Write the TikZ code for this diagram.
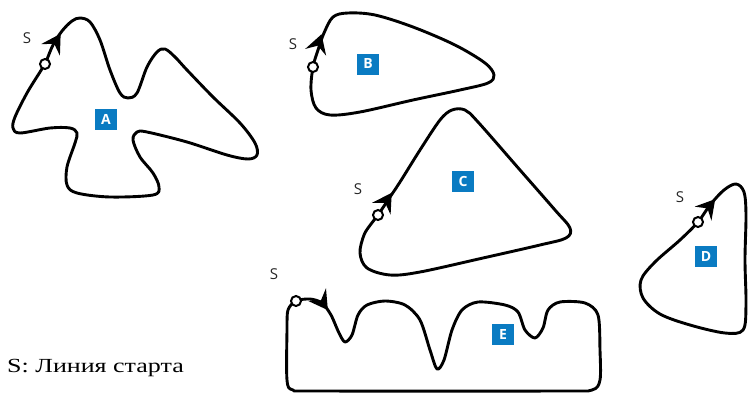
\documentclass[tikz,border=0pt]{standalone}
\usepackage{fontspec}
\setmainfont{Liberation Serif}
\setsansfont{Open Sans}
\usetikzlibrary{arrows.meta}
\definecolor{tagblue}{HTML}{0A7BC2}
\tikzset{
  track/.style={line width=2.9pt, line join=round},
  startpt/.style={circle, draw, fill=white, line width=2pt, inner sep=0pt, minimum size=10pt},
  tag/.style={fill=tagblue, text=white, font=\sffamily\bfseries\fontsize{14}{14}\selectfont,
              minimum width=22pt, minimum height=21pt, inner sep=0pt},
  slabel/.style={font=\sffamily\fontsize{15}{15}\selectfont, text=black!85}
}
% swept arrowhead placed at a point, pointing along the given angle
\newcommand\runhead[2]{%
  \fill[shift={(#1)}, rotate=#2, x=1pt, y=1pt, line join=miter]
    (5,0) -- (-14,11) -- (-7,0) -- (-14,-11) -- cycle;}
\begin{document}
\begin{tikzpicture}[x=1pt,y=-1pt]
\useasboundingbox (0,0) rectangle (748,394);
\clip (0,0) rectangle (748,394);

% Track A
\draw[track] plot[smooth cycle, tension=0.55] coordinates {
  (45,64) (53,45) (62,31) (72,21) (80,18) (90,22) (100,40) (110,70) (120,93)
  (128,98) (137,93) (147,67) (157,52) (165,49) (175,57) (187,70) (213,97)
  (240,123) (255,143) (257,155) (248,159) (227,155) (187,142) (147,132)
  (137,132) (133,140) (140,157) (153,173) (159,187) (153,195) (110,197)
  (77,193) (67,185) (67,167) (75,143) (77,133) (70,128) (50,128) (20,133)
  (13,128) (15,117) (27,93) (40,72)};
\coordinate (hA) at (58,38);
\runhead{hA}{58}
\node[startpt] (sA) at (45,64) {};
\node[slabel] (lsA) at (27,38) {S};
\node[tag] (tA) at (106,119) {A};

% Track B
\draw[track] plot[smooth cycle, tension=0.55] coordinates {
  (313,67) (318,50) (324,33) (333,17) (348,13) (375,15) (413,27) (455,45)
  (485,63) (494,75) (488,83) (460,90) (413,100) (360,112) (330,115)
  (316,108) (311,90)};
\coordinate (hB) at (320,39);
\runhead{hB}{72}
\node[startpt] (sB) at (313,67) {};
\node[slabel] (lsB) at (293,44) {S};
\node[tag] (tB) at (368,64) {B};

% Track C
\draw[track] plot[smooth cycle, tension=0.55] coordinates {
  (378,215) (388,200) (400,182) (420,150) (440,120) (452,110) (465,110)
  (478,122) (520,170) (555,210) (570,228) (566,238) (540,245) (483,258)
  (420,272) (390,275) (367,268) (360,253) (364,235) (371,224)};
\coordinate (hC) at (389,197);
\runhead{hC}{57}
\node[startpt] (sC) at (378,215) {};
\node[slabel] (lsC) at (358,189) {S};
\node[tag] (tC) at (463,181) {C};

% Track D
\draw[track] plot[smooth cycle, tension=0.55] coordinates {
  (698,222) (710,205) (724,190) (736,184) (744,192) (746,215) (745,260)
  (746,305) (743,330) (725,333) (690,325) (660,314) (643,298) (641,280)
  (655,262) (680,240)};
\coordinate (hD) at (712,203);
\runhead{hD}{50}
\node[startpt] (sD) at (698,222) {};
\node[slabel] (lsD) at (680,197) {S};
\node[tag] (tD) at (706,256) {D};

% Track E
\draw[track] plot[smooth cycle, tension=0.5] coordinates {
  (296,301) (310,299) (322,303) (331,315) (339,333) (345,342) (352,335)
  (358,315) (367,305) (385,301) (405,305) (420,320) (430,350) (437,369)
  (444,360) (452,330) (462,310) (478,302) (505,305) (518,312) (525,330)
  (535,338) (543,328) (548,310) (560,302) (585,303) (598,315) (600,350)
  (600,380) (592,390) (560,391) (320,391) (293,390) (287,380) (287,330)
  (288,310)};
\coordinate (hE) at (325,306);
\runhead{hE}{-55}
\node[startpt] (sE) at (296,301) {};
\node[slabel] (lsE) at (274,274) {S};
\node[tag] (tE) at (503,334) {E};

% Legend
\node[anchor=west, font=\fontsize{20}{22}\selectfont, inner sep=0pt] (legend) at (7,368)
  {\scalebox{1.3}[1]{S: Линия старта}};
\end{tikzpicture}
\end{document}
